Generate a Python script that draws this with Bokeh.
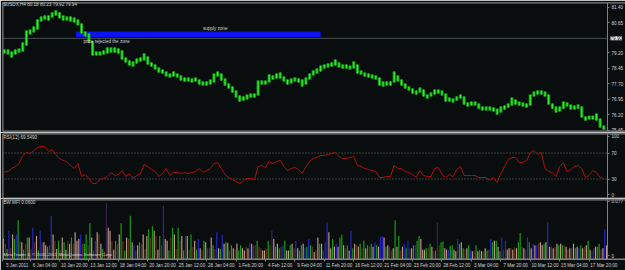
from bokeh.plotting import figure
from bokeh.layouts import column
from bokeh.models import Range1d, FixedTicker, NumeralTickFormatter, Span, Label, ColumnDataSource
from bokeh.embed import file_html
from bokeh.resources import INLINE

# ---------------- data ----------------
n_bars = 329                     # H4 bars shown, 3 Jan 2011 .. 18 Mar 2011
# price, one entry per pair of H4 bars (8 hours)
price_high = [79.36, 79.36, 79.26, 79.36, 79.41, 79.70, 80.28, 80.33, 80.48, 80.82,
              80.96, 81.01, 81.01, 81.16, 81.25, 81.16, 81.01, 80.96, 80.96, 80.91,
              80.82, 80.62, 80.23, 80.14, 79.75, 79.26, 79.26, 79.31, 79.46, 79.46,
              79.46, 79.41, 79.31, 78.97, 78.83, 78.78, 78.92, 78.97, 79.17, 79.02,
              78.73, 78.63, 78.49, 78.39, 78.29, 78.19, 78.29, 78.19, 78.10, 78.00,
              78.00, 77.95, 78.00, 77.90, 77.81, 77.81, 77.90, 78.19, 78.29, 78.19,
              77.95, 77.71, 77.56, 77.37, 77.13, 77.08, 77.17, 77.22, 77.22, 77.85,
              77.85, 77.85, 78.15, 78.10, 78.19, 78.24, 78.05, 77.90, 77.95, 78.00,
              77.95, 77.90, 78.00, 78.19, 78.34, 78.44, 78.58, 78.63, 78.68, 78.73,
              78.87, 78.73, 78.63, 78.63, 78.58, 78.78, 78.63, 78.34, 78.24, 78.19,
              78.15, 78.10, 78.00, 77.81, 77.81, 77.81, 78.29, 78.10, 77.90, 77.71,
              77.56, 77.47, 77.37, 77.51, 77.42, 77.17, 77.27, 77.42, 77.42, 77.37,
              77.22, 77.03, 76.98, 77.08, 77.17, 77.08, 76.79, 76.83, 76.83, 76.74,
              76.59, 76.59, 76.59, 76.54, 76.49, 76.59, 76.64, 76.74, 77.03, 76.93,
              76.83, 76.79, 76.74, 77.17, 77.32, 77.37, 77.37, 77.32, 77.17, 76.74,
              76.59, 76.59, 76.83, 76.79, 76.69, 76.64, 76.69, 76.59, 76.11, 76.15,
              76.15, 76.25, 76.01, 75.67]
price_low = [79.17, 79.12, 78.97, 79.12, 79.21, 79.26, 79.55, 80.09, 80.19, 80.33,
             80.72, 80.82, 80.77, 80.91, 81.01, 80.87, 80.77, 80.77, 80.72, 80.67,
             80.53, 80.14, 79.99, 79.70, 79.07, 79.07, 79.07, 79.12, 79.17, 79.21,
             79.21, 79.17, 78.87, 78.73, 78.58, 78.53, 78.68, 78.78, 78.83, 78.63,
             78.53, 78.39, 78.24, 78.19, 78.05, 78.00, 78.05, 78.00, 77.85, 77.81,
             77.81, 77.76, 77.81, 77.66, 77.61, 77.61, 77.66, 77.76, 78.05, 77.85,
             77.61, 77.47, 77.27, 77.03, 76.83, 76.88, 76.93, 77.03, 77.03, 77.13,
             77.66, 77.66, 77.76, 77.90, 77.95, 77.95, 77.81, 77.66, 77.71, 77.81,
             77.76, 77.56, 77.66, 77.90, 78.10, 78.19, 78.29, 78.44, 78.49, 78.53,
             78.58, 78.49, 78.44, 78.44, 78.39, 78.44, 78.19, 78.15, 78.05, 78.00,
             77.95, 77.90, 77.61, 77.56, 77.61, 77.61, 77.76, 77.81, 77.61, 77.47,
             77.37, 77.22, 77.17, 77.27, 77.08, 76.98, 77.08, 77.17, 77.22, 77.13,
             76.83, 76.83, 76.79, 76.88, 76.98, 76.69, 76.59, 76.64, 76.64, 76.49,
             76.40, 76.40, 76.40, 76.35, 76.20, 76.30, 76.45, 76.54, 76.64, 76.69,
             76.64, 76.59, 76.54, 76.64, 77.08, 77.17, 77.17, 77.08, 76.69, 76.49,
             76.30, 76.35, 76.49, 76.59, 76.45, 76.45, 76.49, 76.06, 75.91, 75.96,
             75.96, 75.91, 75.57, 75.47]
rsi12 = [40.5, 41.5, 46.2, 49.2, 53.8, 66.2, 70.8, 69.2, 73.8, 78.5,
         80.0, 80.0, 72.3, 75.4, 67.7, 61.5, 58.5, 56.9, 50.8, 46.2,
         53.8, 33.8, 36.9, 30.8, 23.1, 23.1, 29.2, 30.8, 33.8, 40.0,
         35.4, 36.9, 43.1, 33.8, 38.5, 30.8, 35.4, 38.5, 52.3, 49.2,
         44.6, 41.5, 33.8, 38.5, 46.2, 35.4, 40.0, 40.0, 38.5, 40.0,
         38.5, 40.0, 41.5, 46.2, 40.0, 43.1, 46.2, 53.8, 55.4, 46.2,
         36.9, 32.3, 29.2, 26.2, 23.1, 27.7, 30.8, 30.8, 29.2, 49.2,
         50.8, 47.7, 56.9, 53.8, 56.9, 58.5, 49.2, 43.1, 46.2, 47.7,
         44.6, 38.5, 49.2, 56.9, 61.5, 63.1, 66.2, 66.2, 67.7, 69.2,
         70.8, 64.6, 61.5, 61.5, 63.1, 64.6, 50.8, 49.2, 46.2, 44.6,
         43.1, 41.5, 32.3, 32.3, 33.8, 33.8, 50.8, 46.2, 46.2, 41.5,
         40.0, 36.9, 32.3, 43.1, 35.4, 33.8, 33.8, 46.2, 47.7, 36.9,
         32.3, 36.9, 33.8, 44.6, 49.2, 35.4, 35.4, 35.4, 35.4, 32.3,
         32.3, 32.3, 27.7, 32.3, 24.6, 38.5, 49.2, 60.0, 63.1, 63.1,
         55.4, 55.4, 58.5, 70.8, 73.8, 67.7, 70.8, 46.2, 41.5, 40.0,
         33.8, 49.2, 55.4, 41.5, 44.6, 49.2, 50.8, 46.2, 32.3, 35.4,
         43.1, 40.0, 32.3, 30.8]
# BW MFI, one value per H4 bar, in thousandths
mfi_milli = [27, 21, 14, 38, 15, 33, 27, 33, 52, 25, 23, 13, 21, 29, 29, 14, 42, 23, 31, 12,
             38, 23, 23, 19, 17, 19, 58, 33, 25, 14, 25, 12, 29, 23, 13, 25, 21, 29, 21, 36,
             25, 27, 33, 21, 21, 33, 19, 48, 29, 12, 25, 36, 33, 21, 14, 11, 75, 42, 38, 25,
             13, 25, 21, 33, 48, 25, 12, 29, 27, 58, 23, 19, 12, 19, 23, 21, 33, 14, 31, 40,
             29, 44, 38, 31, 13, 31, 19, 71, 27, 25, 12, 29, 42, 33, 14, 42, 25, 31, 12, 31,
             31, 13, 33, 17, 25, 13, 27, 15, 12, 25, 23, 15, 15, 29,
             19, 14, 36, 15, 14, 33, 21, 23, 22, 12, 19, 15, 14, 21, 12, 19, 15, 12, 17, 15,
             22, 21, 19, 19, 25, 17, 15, 12, 12, 14, 25, 19, 38, 27, 17, 21, 15, 17, 19, 25,
             12, 12, 19, 21, 15, 25, 15, 12, 19, 21, 15, 17, 27, 19, 17, 10, 12, 29, 21, 21,
             12, 23, 49, 36, 15, 27, 17, 21, 17, 29, 33, 19, 15, 19, 12, 38, 15, 21, 19, 17,
             21, 15, 25, 15, 19, 17, 21, 17, 23, 19, 17, 29, 31, 29, 17, 19, 17, 12, 15, 52,
             17, 31, 12, 17, 21, 15, 25, 15, 15, 19, 19, 25, 31, 27,
             13, 13, 15, 15, 21, 17, 11, 12, 49, 19, 23, 24, 15, 13, 13, 18, 19, 13, 11, 27,
             21, 23, 15, 13, 15, 19, 13, 11, 12, 19, 11, 13, 11, 11, 15, 12, 13, 27, 23, 25,
             25, 17, 11, 29, 13, 25, 13, 15, 15, 13, 17, 15, 23, 35, 17, 15, 13, 29, 23, 15,
             21, 19, 19, 21, 23, 19, 21, 23, 49, 17, 17, 15, 17, 21, 19, 21, 19, 19, 17, 13,
             15, 15, 21, 15, 17, 15, 19, 15, 17, 19, 25, 13, 11, 15, 17, 17, 21, 13, 15, 40, 19]
# g = MFI up & volume up, r = both down, b = MFI up & volume down, t = MFI down & volume up
mfi_kind = ("trgbrtgbgr" "tgrgtrbrtg" "brttgrbtrt" "grtgtrtgrt" "ttbrggrgtr" "btrtgrpttr"
            "tgrtgrgtrg" "tbrtgrtrtg" "rgtrtgrbtt" "grgtrgrtgb" "trgrtgbtrg" "tbrt"
            "grbtgbtgtr" "gtrtggttrt" "btbrgrrttr" "grptgtgrbg" "ttgtrbtggt" "bgbgrtrtgt"
            "bbbttgtbtg" "gtrgtbgtrt" "grgtgrgtbg" "tbbtgtrrtg" "tgrtbgbrtg" "bggt"
            "ttgrgtrgpr" "ggttbggttb" "gtgrtgbtrg" "tgtrtgrbgt" "gtgbrbttrt" "rtggrtbbgt"
            "btbrttgtbt" "rtrtgtgrtr" "trtgtbgtrt" "gtbrtggrtb" "t")

tick_bars = [0, 15, 31, 47, 63, 79, 95, 111, 127, 143, 159, 175, 191, 207, 223, 239, 255, 271, 287, 303, 319]
tick_labels = ["3 Jan 2011", "6 Jan 04:00", "10 Jan 20:00", "13 Jan 12:00", "18 Jan 04:00",
               "20 Jan 20:00", "25 Jan 12:00", "28 Jan 04:00", "1 Feb 20:00", "4 Feb 12:00",
               "9 Feb 04:00", "11 Feb 20:00", "16 Feb 12:00", "21 Feb 04:00", "23 Feb 20:00",
               "28 Feb 12:00", "3 Mar 04:00", "7 Mar 20:00", "10 Mar 12:00", "15 Mar 04:00",
               "17 Mar 20:00"]
price_ticks = [81.40, 80.65, 79.20, 78.45, 77.70, 76.95, 76.20, 75.45]
hline_price = 79.90
rsi_levels = [70, 30]
zone_bars = (40, 173)
zone_prices = (79.97, 80.23)

assert len(price_high) == len(price_low) == len(rsi12) == 164
assert len(mfi_milli) == len(mfi_kind) == n_bars

# ---------------- styling / layout ----------------
BG = "#0a0d0d"
EDGE = "#808080"
TXT = "#d4d4d4"
FONT = "Liberation Sans"
FS = "4.6px"
KIND_COLOR = {"g": "#17a317", "r": "#623119", "b": "#2626cc", "t": "#bf9d8f", "p": "#3c2356"}

# the frame spans the whole width; the price scale sits at the last bar, MT4 style
x_end = n_bars * 623 / 605
x_range = Range1d(0, x_end)


def panel(h, yr, top, bottom, with_x=False):
    p = figure(width=625, height=h, x_range=x_range, y_range=yr,
               toolbar_location=None, output_backend="svg",
               x_axis_location="below" if with_x else None, y_axis_location="right",
               min_border_left=2, min_border_right=0, min_border_top=top, min_border_bottom=bottom,
               background_fill_color=BG, border_fill_color=BG, outline_line_color=None)
    p.grid.visible = False
    ax = p.yaxis[0]
    ax.fixed_location = n_bars
    ax.axis_line_color = EDGE
    ax.major_tick_line_color = EDGE
    ax.major_tick_out = 2
    ax.major_tick_in = 0
    ax.minor_tick_line_color = None
    ax.major_label_standoff = 2
    ax.major_label_text_font = FONT
    ax.major_label_text_font_size = FS
    ax.major_label_text_color = TXT
    # window frame lines (left edge and top/bottom separators)
    p.add_layout(Span(location=0, dimension="height", line_color=EDGE, line_width=2))
    p.add_layout(Span(location=yr.start, dimension="width", line_color=EDGE, line_width=2))
    p.add_layout(Span(location=yr.end, dimension="width", line_color=EDGE, line_width=2))
    return p


def note(p, x, y, text, baseline="middle", size=FS, color=TXT):
    p.add_layout(Label(x=x, y=y, text=text, text_font=FONT, text_font_size=size,
                       text_color=color, text_baseline=baseline, text_align="left"))


# ---- main price window ----
p1 = panel(132, Range1d(75.38, 81.64), 2, 1)
p1.yaxis[0].ticker = FixedTicker(ticks=price_ticks)
p1.yaxis[0].formatter = NumeralTickFormatter(format="0.00")
p1.segment(x0=[0], x1=[n_bars], y0=[hline_price], y1=[hline_price], line_color="#4b5252", line_width=1)
p1.quad(left=[zone_bars[0]], right=[zone_bars[1]], bottom=[zone_prices[0]], top=[zone_prices[1]],
        fill_color="#0c14f2", line_color=None)
src = ColumnDataSource(dict(x=[2 * k + 1 for k in range(len(price_high))], hi=price_high, lo=price_low))
p1.vbar(x="x", width=1.7, top="hi", bottom="lo", source=src, fill_color="#13a013", line_color=None)
p1.segment(x0="x", y0="lo", x1="x", y1="hi", source=src, line_color="#3af53a", line_width=1)
note(p1, 0.5, 81.52, "$USDX,H4  80.18 80.23 79.92 79.94")
note(p1, 109, zone_prices[1] + 0.01, "supply zone", baseline="bottom")
note(p1, 44, 79.86, "price rejected the zone", baseline="top")
p1.add_layout(Label(x=n_bars, y=hline_price, x_offset=3, text="79.90", text_font=FONT,
                    text_font_size=FS, text_color="#000000", text_baseline="middle",
                    background_fill_color="#f2f2f2"))

# ---- RSI window ----
p2 = panel(66, Range1d(0, 100), 1, 0)
p2.yaxis[0].ticker = FixedTicker(ticks=[96, 70, 30, 6])
p2.yaxis[0].major_label_overrides = {96: "100", 6: "0"}
p2.segment(x0=[0, 0], x1=[n_bars, n_bars], y0=rsi_levels, y1=rsi_levels,
           line_color="#6f6f6f", line_width=1, line_dash="1 2")
p2.line([2 * k + 1 for k in range(len(rsi12))], rsi12, line_color="#b00f0f", line_width=1)
note(p2, 0.5, 94.5, "RSI(12) 69.5490")

# ---- BW MFI window ----
p3 = panel(72, Range1d(0, 79.5), 1, 8, with_x=True)
p3.yaxis[0].ticker = FixedTicker(ticks=[77, 5])
p3.yaxis[0].major_label_overrides = {77: "0.077", 5: "0"}
p3.vbar(x=[i + 0.5 for i in range(n_bars)], width=0.62, top=mfi_milli, bottom=0,
        fill_color=[KIND_COLOR[c] for c in mfi_kind], line_color=None)
note(p3, 0.5, 75, "BW MFI 0.0600")
note(p3, 0.5, 6.3, "MetaTrader 4, \u00a9 2001-2011 MetaQuotes Software Corp.", size="4.4px")

xa = p3.xaxis[0]
centers = [b + 8 for b in tick_bars]
xa.ticker = FixedTicker(ticks=centers, minor_ticks=tick_bars)
xa.major_label_overrides = {c: t for c, t in zip(centers, tick_labels)}
xa.axis_line_color = EDGE
xa.major_tick_out = 0
xa.major_tick_in = 0
xa.minor_tick_out = 2
xa.minor_tick_in = 0
xa.minor_tick_line_color = EDGE
xa.major_label_standoff = 1
xa.major_label_text_font = FONT
xa.major_label_text_font_size = FS
xa.major_label_text_color = TXT

layout = column(p1, p2, p3, spacing=0)
open("out.html", "w").write(file_html(layout, INLINE))
